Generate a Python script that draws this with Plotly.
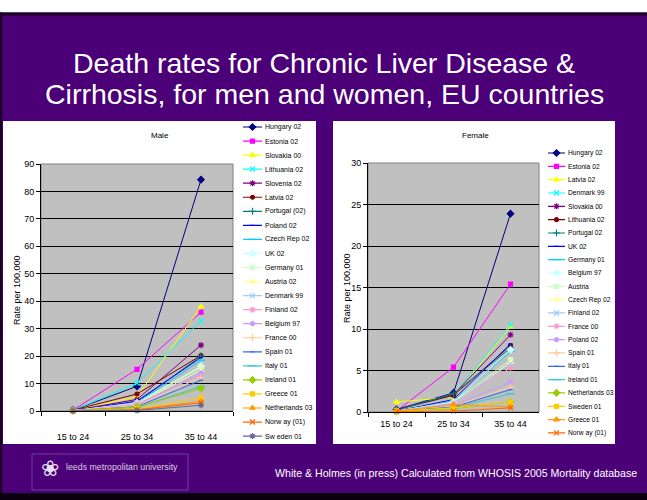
import plotly.graph_objects as go

W, H = 647, 500
FONT = "Liberation Sans, Arial, sans-serif"

age_groups = ["15 to 24", "25 to 34", "35 to 44"]

# ---------------- Male ----------------
male_countries = ["Hungary 02", "Estonia 02", "Slovakia 00", "Lithuania 02", "Slovenia 02",
                  "Latvia 02", "Portugal (02)", "Poland 02", "Czech Rep 02", "UK 02",
                  "Germany 01", "Austria 02", "Denmark 99", "Finland 02", "Belgium 97",
                  "France 00", "Spain 01", "Italy 01", "Ireland 01", "Greece 01",
                  "Netherlands 03", "Norw ay (01)", "Sw eden 01"]
male_1524 = [0.3, 0.3, 0.2, 0.2, 0.2, 0.3, 0.1, 0.1, 0.1, 0.1, 0.1, 0.1, 0.1, 0.1, 0.1,
             0.1, 0.1, 0.1, 0.1, 0.1, 0.1, 0.1, 0.1]
male_2534 = [9.0, 15.2, 5.2, 10.2, 4.2, 6.2, 3.2, 3.6, 3.0, 3.0, 2.6, 2.4, 2.2, 2.6, 2.2,
             2.0, 1.6, 1.2, 1.5, 0.8, 0.5, 0.4, 0.2]
male_3544 = [84.3, 36.0, 38.0, 32.8, 24.0, 20.2, 20.0, 19.5, 18.5, 16.3, 16.0, 15.0, 14.2,
             13.3, 13.8, 12.2, 11.2, 9.0, 8.2, 4.8, 3.6, 3.0, 2.1]

# ---------------- Female ----------------
female_countries = ["Hungary 02", "Estonia 02", "Latvia 02", "Denmark 99", "Slovakia 00",
                    "Lithuania 02", "Portugal 02", "UK 02", "Germany 01", "Belgium 97",
                    "Austria", "Czech Rep 02", "Finland 02", "France 00", "Poland 02",
                    "Spain 01", "Italy 01", "Ireland 01", "Netherlands 03", "Sweden 01",
                    "Greece 01", "Norw ay (01)"]
female_1524 = [0.3, 0.1, 1.2, 0.3, 0.3, 0.3, 0.2, 0.1, 0.1, 0.1, 0.1, 0.1, 0.1, 0.1, 0.1,
               0.1, 0.1, 0.1, 0.1, 0.1, 0.1, 0.05]
female_2534 = [2.3, 5.4, 1.8, 2.0, 2.1, 2.0, 2.2, 1.5, 1.3, 1.2, 1.2, 1.0, 1.1, 1.0, 0.8,
               0.7, 0.6, 0.5, 0.4, 0.5, 0.9, 0.1]
female_3544 = [23.9, 15.4, 10.3, 10.5, 9.3, 8.0, 7.7, 8.2, 7.3, 7.5, 6.3, 6.0, 5.8, 5.3,
               3.6, 3.0, 2.7, 2.2, 1.2, 1.2, 0.6, 0.5]

# Excel default series colours and marker cycle
series_colors = ["#000080", "#FF00FF", "#FFFF00", "#00FFFF", "#800080", "#800000", "#008080",
                 "#0000FF", "#00CCFF", "#CCFFFF", "#CCFFCC", "#FFFF99", "#99CCFF", "#FF99CC",
                 "#CC99FF", "#FFCC99", "#3366FF", "#33CCCC", "#99CC00", "#FFCC00", "#FF9900",
                 "#FF6600", "#666699"]
marker_cycle = [("diamond", 5), ("square", 4), ("triangle-up", 5), ("x-thin-open", 5),
                ("asterisk-open", 5), ("circle", 4), ("cross-thin-open", 5),
                ("line-ew-open", 3), ("line-ew-open", 6)]


def fx(px):
    return px / W


def fy(py):
    return 1 - py / H


fig = go.Figure()


def add_series(names, v1, v2, v3, xa, ya, lxa, lya):
    for i, name in enumerate(names):
        col = series_colors[i % len(series_colors)]
        sym, sz = marker_cycle[i % len(marker_cycle)]
        fig.add_trace(go.Scatter(
            x=age_groups, y=[v1[i], v2[i], v3[i]], name=name, mode="lines+markers",
            line=dict(color=col, width=1),
            marker=dict(symbol=sym, size=sz, color=col, line=dict(color=col, width=1.2)),
            xaxis=xa, yaxis=ya, showlegend=False, cliponaxis=False))
        # legend sample (hidden axes)
        fig.add_trace(go.Scatter(x=[0, 2], y=[i, i], mode="lines", line=dict(color=col, width=1.2),
                                 xaxis=lxa, yaxis=lya, showlegend=False, hoverinfo="skip"))
        fig.add_trace(go.Scatter(x=[1], y=[i], mode="markers",
                                 marker=dict(symbol=sym, size=sz, color=col,
                                             line=dict(color=col, width=1.2)),
                                 xaxis=lxa, yaxis=lya, showlegend=False, hoverinfo="skip",
                                 cliponaxis=False))


add_series(male_countries, male_1524, male_2534, male_3544, "x", "y", "x3", "y3")
add_series(female_countries, female_1524, female_2534, female_3544, "x2", "y2", "x4", "y4")

# plot area pixel boxes
M = dict(l=41, r=233, t=164, b=411)
F = dict(l=368, r=539, t=163, b=412)

tickfont = dict(family=FONT, size=9, color="black")


def xaxis_cfg(box, standoff, anchor):
    return dict(domain=[fx(box["l"]), fx(box["r"])], type="category", anchor=anchor,
                categoryorder="array", categoryarray=age_groups, range=[-0.5, 2.5],
                tickson="boundaries", ticks="outside", ticklen=4, tickcolor="black",
                showline=True, linecolor="black", linewidth=1, showgrid=False,
                zeroline=False, tickfont=tickfont, ticklabelstandoff=standoff, fixedrange=True)


def yaxis_cfg(box, top, dt, anchor):
    return dict(domain=[fy(box["b"]), fy(box["t"])], range=[0, top], dtick=dt, tick0=0,
                anchor=anchor, ticks="outside", ticklen=4, tickcolor="black", showline=True,
                linecolor="black", linewidth=1, showgrid=True, gridcolor="black",
                gridwidth=1, zeroline=False, tickfont=tickfont, fixedrange=True)


hidden = dict(visible=False, showgrid=False, zeroline=False, fixedrange=True,
              showticklabels=False, ticks="")

nm, nf = len(male_countries), len(female_countries)
m_top, m_sp = 127, 14.05
f_top, f_sp = 153, 13.33

fig.update_layout(
    width=W, height=H, margin=dict(l=0, r=0, t=0, b=0, autoexpand=False),
    paper_bgcolor="#4B0078", plot_bgcolor="rgba(0,0,0,0)",
    showlegend=False, font=dict(family=FONT, color="black"),
    xaxis=xaxis_cfg(M, 17, "y"), yaxis=yaxis_cfg(M, 90, 10, "x"),
    xaxis2=xaxis_cfg(F, 3, "y2"), yaxis2=yaxis_cfg(F, 30, 5, "x2"),
    xaxis3=dict(hidden, domain=[fx(243), fx(262)], range=[0, 2], anchor="y3"),
    yaxis3=dict(hidden, domain=[fy(m_top - m_sp / 2 + nm * m_sp), fy(m_top - m_sp / 2)],
                range=[nm - 0.5, -0.5], anchor="x3"),
    xaxis4=dict(hidden, domain=[fx(548), fx(565)], range=[0, 2], anchor="y4"),
    yaxis4=dict(hidden, domain=[fy(f_top - f_sp / 2 + nf * f_sp), fy(f_top - f_sp / 2)],
                range=[nf - 0.5, -0.5], anchor="x4"),
)

shapes = [
    # white strip on top and black frame lines
    dict(type="rect", xref="paper", yref="paper", x0=0, x1=1, y0=fy(0), y1=fy(12.5),
         fillcolor="white", line=dict(width=0), layer="below"),
    dict(type="rect", xref="paper", yref="paper", x0=0, x1=1, y0=fy(12.5), y1=fy(15.5),
         fillcolor="#1a0026", line=dict(width=0), layer="below"),
    dict(type="rect", xref="paper", yref="paper", x0=0, x1=fx(2.2), y0=fy(12.5), y1=fy(500),
         fillcolor="#1a0026", line=dict(width=0), layer="below"),
    dict(type="rect", xref="paper", yref="paper", x0=0, x1=1, y0=fy(493), y1=fy(500),
         fillcolor="#0a0010", line=dict(width=0), layer="below"),
    # white chart panels
    dict(type="rect", xref="paper", yref="paper", x0=fx(3), x1=fx(316), y0=fy(444), y1=fy(121),
         fillcolor="white", line=dict(width=0), layer="below"),
    dict(type="rect", xref="paper", yref="paper", x0=fx(333), x1=fx(615), y0=fy(444), y1=fy(121),
         fillcolor="white", line=dict(width=0), layer="below"),
    # silver plot areas
    dict(type="rect", xref="paper", yref="paper", x0=fx(M["l"]), x1=fx(M["r"]), y0=fy(M["b"]),
         y1=fy(M["t"]), fillcolor="#C0C0C0", line=dict(color="#808080", width=1), layer="below"),
    dict(type="rect", xref="paper", yref="paper", x0=fx(F["l"]), x1=fx(F["r"]), y0=fy(F["b"]),
         y1=fy(F["t"]), fillcolor="#C0C0C0", line=dict(color="#808080", width=1), layer="below"),
    # logo frame
    dict(type="rect", xref="paper", yref="paper", x0=fx(32), x1=fx(188), y0=fy(490), y1=fy(454),
         fillcolor="rgba(0,0,0,0)", line=dict(color="#6E3C98", width=1), layer="below"),
]
fig.update_layout(shapes=shapes)

title_font = dict(family=FONT, size=28.5, color="white")
ann = [
    dict(text="Death rates for Chronic Liver Disease &", x=fx(324), y=fy(63), xref="paper",
         yref="paper", xanchor="center", yanchor="middle", showarrow=False, font=title_font),
    dict(text="Cirrhosis, for men and women, EU countries", x=fx(324), y=fy(94), xref="paper",
         yref="paper", xanchor="center", yanchor="middle", showarrow=False, font=title_font),
    dict(text="Male", x=fx(160), y=fy(135), xref="paper", yref="paper", showarrow=False,
         xanchor="center", yanchor="middle", font=dict(family=FONT, size=8, color="black")),
    dict(text="Female", x=fx(475), y=fy(135), xref="paper", yref="paper", showarrow=False,
         xanchor="center", yanchor="middle", font=dict(family=FONT, size=8, color="black")),
    dict(text="Rate per 100,000", x=fx(17), y=fy(290), xref="paper", yref="paper",
         showarrow=False, textangle=-90, xanchor="center", yanchor="middle",
         font=dict(family=FONT, size=9, color="black")),
    dict(text="Rate per 100,000", x=fx(347), y=fy(288), xref="paper", yref="paper",
         showarrow=False, textangle=-90, xanchor="center", yanchor="middle",
         font=dict(family=FONT, size=9, color="black")),
    dict(text="White & Holmes (in press) Calculated from WHOSIS 2005 Mortality database",
         x=fx(639), y=fy(473), xref="paper", yref="paper", showarrow=False,
         xanchor="right", yanchor="middle", font=dict(family=FONT, size=10.6, color="white")),
    dict(text="leeds metropolitan university", x=fx(64), y=fy(467), xref="paper", yref="paper",
         showarrow=False, xanchor="left", yanchor="middle",
         font=dict(family=FONT, size=8.8, color="#D8D0E0")),
    dict(text="❀", x=fx(50), y=fy(468), xref="paper", yref="paper", showarrow=False,
         xanchor="center", yanchor="middle", font=dict(family="DejaVu Sans", size=22, color="#E8E0F0")),
]
for i, name in enumerate(male_countries):
    ann.append(dict(text=name, x=fx(263), y=i, xref="paper", yref="y3", showarrow=False,
                    xanchor="left", yanchor="middle",
                    font=dict(family=FONT, size=7.0, color="black")))
for i, name in enumerate(female_countries):
    ann.append(dict(text=name, x=fx(566), y=i, xref="paper", yref="y4", showarrow=False,
                    xanchor="left", yanchor="middle",
                    font=dict(family=FONT, size=6.7, color="black")))
fig.update_layout(annotations=ann)

fig.write_html("out.html", config={"displayModeBar": False},
               post_script="document.body.style.margin='0';")
